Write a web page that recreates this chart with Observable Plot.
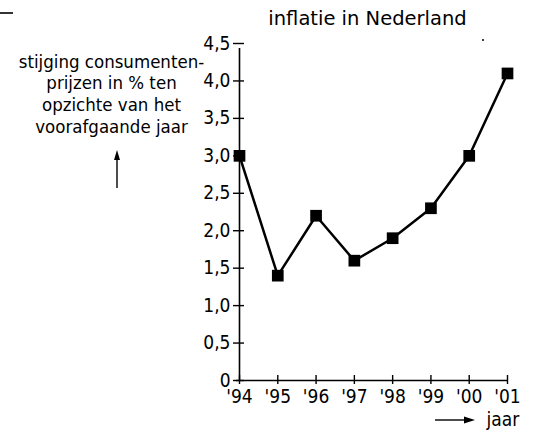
<!DOCTYPE html>
<html>
<head>
<meta charset="utf-8">
<script src="https://cdn.jsdelivr.net/npm/d3@7"></script>
<script src="https://cdn.jsdelivr.net/npm/@observablehq/plot@0.6"></script>
<style>
  html, body { margin: 0; padding: 0; background: #fff; }
  #chart { width: 537px; height: 433px; overflow: hidden; }
  .cond { font-stretch: condensed; }
</style>
</head>
<body>
<div id="chart"></div>
<script>
// ---- data ----
const years = [1994, 1995, 1996, 1997, 1998, 1999, 2000, 2001];
const inflation = [3.0, 1.4, 2.2, 1.6, 1.9, 2.3, 3.0, 4.1];
const yTicks = [0, 0.5, 1.0, 1.5, 2.0, 2.5, 3.0, 3.5, 4.0, 4.5];
const xTickLabels = ["'94", "'95", "'96", "'97", "'98", "'99", "'00", "'01"];
const title = "inflatie in Nederland";
const yLabelLines = ["stijging consumenten-", "prijzen in % ten", "opzichte van het", "voorafgaande jaar"];
const xLabel = "jaar";

const data = years.map((y, i) => ({year: y, value: inflation[i]}));
const COND = "'DejaVu Sans Condensed', 'DejaVu Sans', sans-serif";
const REG = "'DejaVu Sans', sans-serif";

const W = 537, H = 433;
const mL = 239, mR = 30, mT = 43, mB = 53;

const plot = Plot.plot({
  width: W, height: H,
  marginLeft: mL, marginRight: mR, marginTop: mT, marginBottom: mB,
  style: {fontFamily: COND, fontStretch: "condensed", fontSize: "19px", color: "#000", background: "#fff", overflow: "visible"},
  x: {type: "linear", domain: [years[0], years[years.length - 1]]},
  y: {domain: [0, 4.5]},
  marks: [
    // axis lines
    Plot.ruleX([years[0]], {y1: 0, y2: 4.5, stroke: "#000", strokeWidth: 1.6, insetBottom: -5}),
    Plot.ruleY([0], {x1: years[0], x2: years[years.length - 1], stroke: "#000", strokeWidth: 1.6, insetLeft: -3}),
    // tick marks crossing the axis lines
    Plot.ruleY(yTicks, {y: d => d, x1: years[0], x2: years[0], insetLeft: -6, insetRight: -5, stroke: "#000", strokeWidth: 1.4}),
    Plot.ruleX(years, {x: d => d, y1: 0, y2: 0, insetTop: -5, insetBottom: -4, stroke: "#000", strokeWidth: 1.4}),
    // tick labels
    Plot.axisY({ticks: yTicks, tickSize: 0, tickPadding: 9,
      tickFormat: d => d === 0 ? "0" : d.toFixed(1).replace(".", ","), label: null}),
    Plot.axisX({ticks: years, tickSize: 0, tickPadding: 9,
      tickFormat: d => xTickLabels[years.indexOf(d)], label: null}),
    // series
    Plot.line(data, {x: "year", y: "value", stroke: "#000", strokeWidth: 2.5}),
    Plot.dot(data, {x: "year", y: "value", symbol: "square", r: 6.6, fill: "#000", stroke: null}),
    // title
    Plot.text([title], {frameAnchor: "top", text: d => d, dx: -6, dy: -32, lineAnchor: "top",
      fontSize: 19.5, fontFamily: REG, className: "reg"}),
    // y label
    Plot.text([yLabelLines.join("\n")], {frameAnchor: "top-left", text: d => d, dx: -128, dy: 8.9,
      lineAnchor: "top", textAnchor: "middle", lineHeight: 1.17, fontSize: 18.5}),
    // x label
    Plot.text([xLabel], {frameAnchor: "bottom-right", text: d => d, dx: -21, dy: 31.5,
      lineAnchor: "top", textAnchor: "start", fontSize: 19})
  ]
});

// decorative arrows (positioned from the scales)
const sx = plot.scale("x"), sy = plot.scale("y");
const svg = d3.select(plot);
svg.selectAll("text").filter(function() { return this.textContent === title; })
  .style("font-stretch", "normal").style("font-family", REG);
const g = svg.append("g").attr("fill", "#000").attr("stroke", "#000");
// up arrow under the y label
const ax = mL - 122, ayTop = sy.apply(4.5) + 107, ayBot = sy.apply(4.5) + 145;
g.append("line").attr("x1", ax).attr("x2", ax).attr("y1", ayBot).attr("y2", ayTop + 8).attr("stroke-width", 1.4);
g.append("path").attr("stroke", "none")
  .attr("d", `M${ax},${ayTop} L${ax - 3},${ayTop + 10} L${ax + 3},${ayTop + 10} Z`);
// right arrow before "jaar"
const rxEnd = sx.apply(2001) - 32, rxStart = sx.apply(2001) - 72, ry = sy.apply(0) + 40;
g.append("line").attr("x1", rxStart).attr("x2", rxEnd - 8).attr("y1", ry).attr("y2", ry).attr("stroke-width", 1.4);
g.append("path").attr("stroke", "none")
  .attr("d", `M${rxEnd},${ry} L${rxEnd - 11},${ry - 3.5} L${rxEnd - 11},${ry + 3.5} Z`);
// small scan marks
g.append("line").attr("x1", 0).attr("x2", 13).attr("y1", 13).attr("y2", 13).attr("stroke-width", 1.6);
g.append("circle").attr("cx", 483).attr("cy", 40).attr("r", 1).attr("stroke", "none");

document.getElementById("chart").appendChild(plot);
</script>
</body>
</html>
